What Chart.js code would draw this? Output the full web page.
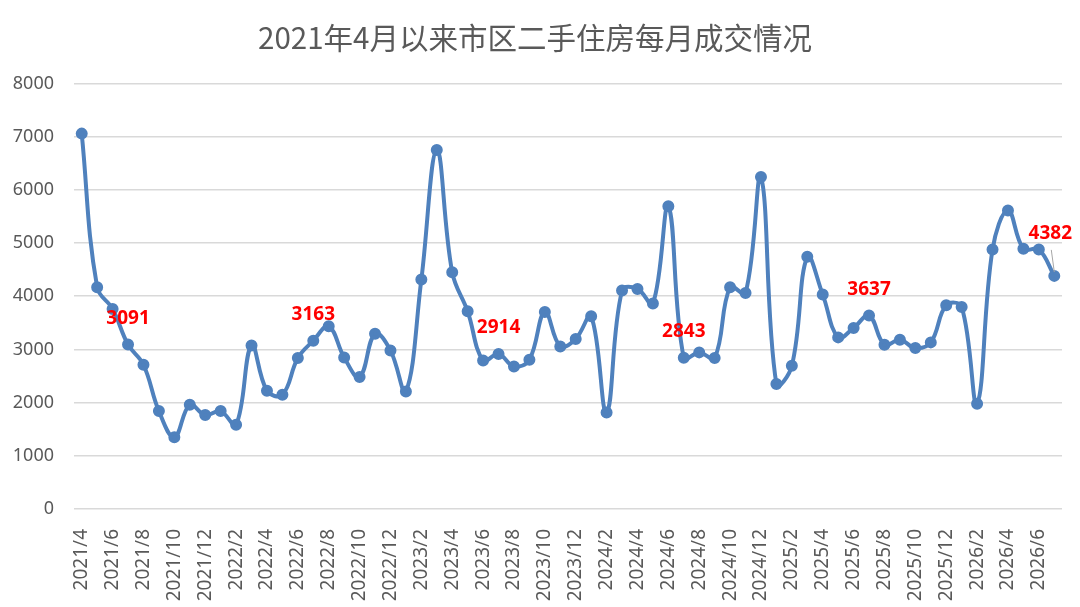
<!DOCTYPE html>
<html>
<head>
<meta charset="utf-8">
<script src="https://cdn.jsdelivr.net/npm/chart.js@4/dist/chart.umd.min.js"></script>
<style>
	html, body { margin: 0; padding: 0; background: #ffffff; }
	#wrap { width: 1080px; height: 607px; }
</style>
</head>
<body>
<div id="wrap"><canvas id="chart"></canvas></div>
<script>
// monthly data, 2021/4 .. 2026/7
var months = [ '2021/4', '2021/5', '2021/6', '2021/7', '2021/8', '2021/9',
		'2021/10', '2021/11', '2021/12', '2022/1', '2022/2', '2022/3',
		'2022/4', '2022/5', '2022/6', '2022/7', '2022/8', '2022/9',
		'2022/10', '2022/11', '2022/12', '2023/1', '2023/2', '2023/3',
		'2023/4', '2023/5', '2023/6', '2023/7', '2023/8', '2023/9',
		'2023/10', '2023/11', '2023/12', '2024/1', '2024/2', '2024/3',
		'2024/4', '2024/5', '2024/6', '2024/7', '2024/8', '2024/9',
		'2024/10', '2024/11', '2024/12', '2025/1', '2025/2', '2025/3',
		'2025/4', '2025/5', '2025/6', '2025/7', '2025/8', '2025/9',
		'2025/10', '2025/11', '2025/12', '2026/1', '2026/2', '2026/3',
		'2026/4', '2026/5', '2026/6', '2026/7' ];

var deals = [ 7056, 4168, 3761, 3091, 2712, 1840,
		1350, 1959, 1765, 1840, 1582, 3075,
		2222, 2147, 2838, 3163, 3433, 2849,
		2480, 3296, 2981, 2209, 4313, 6748,
		4450, 3716, 2793, 2914, 2680, 2806,
		3704, 3056, 3196, 3621, 1814, 4105,
		4137, 3861, 5693, 2843, 2944, 2838,
		4168, 4062, 6239, 2348, 2693, 4740,
		4030, 3226, 3403, 3637, 3089, 3183,
		3026, 3132, 3829, 3798, 1977, 4878,
		5612, 4891, 4878, 4382 ];

// points that carry a red value label
var labelledPoints = [ 3, 15, 27, 39, 51, 63 ];

var yTicks = [ 0, 1000, 2000, 3000, 4000, 5000, 6000, 7000, 8000 ];

var lineColor = 'rgb(79, 129, 189)';
var textColor = '#595959';
var gridColor = '#d9d9d9';

// red bold labels above selected points, last one with a leader line
var valueLabelPlugin = {
	id : 'valueLabels',
	afterDatasetsDraw : function(chart) {
		var meta = chart.getDatasetMeta(0);
		var ctx = chart.ctx;
		var last = deals.length - 1;
		ctx.save();
		ctx.font = 'bold 19px "Noto Sans", sans-serif';
		ctx.fillStyle = '#ff0000';
		ctx.textAlign = 'center';
		ctx.textBaseline = 'middle';
		labelledPoints.forEach(function(idx) {
			var pt = meta.data[idx];
			if (idx == last) {
				ctx.strokeStyle = '#a6a6a6';
				ctx.lineWidth = 1;
				ctx.beginPath();
				ctx.moveTo(pt.x - 3, pt.y - 26);
				ctx.lineTo(pt.x, pt.y - 4);
				ctx.stroke();
				ctx.fillText(String(deals[idx]), pt.x - 4, pt.y - 42);
			} else {
				ctx.fillText(String(deals[idx]), pt.x, pt.y - 26);
			}
		});
		ctx.restore();
	}
};

new Chart(document.getElementById('chart'), {
	type : 'line',
	data : {
		labels : months,
		datasets : [ {
			data : deals,
			borderColor : lineColor,
			backgroundColor : lineColor,
			borderWidth : 4,
			pointRadius : 4,
			pointHoverRadius : 4,
			tension : 0.4,
			fill : false
		} ]
	},
	options : {
		responsive : true,
		maintainAspectRatio : false,
		animation : false,
		layout : {
			padding : {
				left : 8,
				right : 18,
				top : 0,
				bottom : 0
			}
		},
		plugins : {
			legend : {
				display : false
			},
			tooltip : {
				enabled : false
			},
			title : {
				display : true,
				text : '2021年4月以来市区二手住房每月成交情况',
				color : textColor,
				font : {
					family : '"Noto Sans CJK SC", sans-serif',
					size : 29.5,
					weight : 'normal'
				},
				padding : {
					top : 20,
					bottom : 28
				}
			}
		},
		scales : {
			x : {
				offset : true,
				grid : {
					display : false
				},
				border : {
					display : false
				},
				ticks : {
					autoSkip : false,
					maxRotation : 90,
					minRotation : 90,
					color : textColor,
					padding : 12,
					font : {
						family : '"Noto Sans", sans-serif',
						size : 19
					},
					callback : function(value, index) {
						return index % 2 == 0 ? months[index] : '';
					}
				},
				afterFit : function(scale) {
					scale.height = 98;
					scale.paddingLeft = 0;
					scale.paddingRight = 0;
				}
			},
			y : {
				min : 0,
				max : 8000,
				afterBuildTicks : function(scale) {
					scale.ticks = yTicks.map(function(v) {
						return {
							value : v
						};
					});
				},
				grid : {
					color : gridColor,
					lineWidth : 1.5,
					drawTicks : false
				},
				border : {
					display : false
				},
				ticks : {
					color : textColor,
					padding : 20,
					font : {
						family : '"Noto Sans", sans-serif',
						size : 18
					},
					callback : function(value) {
						return String(value);
					}
				},
				afterFit : function(scale) {
					scale.width = 66;
				}
			}
		}
	},
	plugins : [ valueLabelPlugin ]
});
</script>
</body>
</html>
